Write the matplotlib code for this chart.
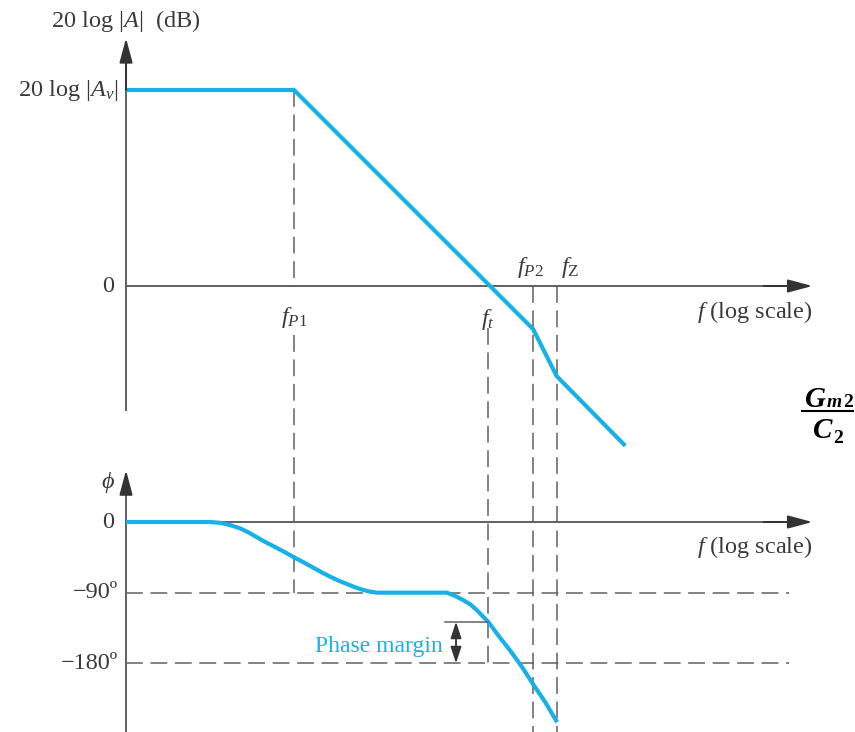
import matplotlib.pyplot as plt

plt.rcParams['font.family'] = 'Liberation Serif'
plt.rcParams['mathtext.fontset'] = 'custom'
plt.rcParams['mathtext.rm'] = 'Liberation Serif'
plt.rcParams['mathtext.it'] = 'Liberation Serif:italic'
plt.rcParams['mathtext.bf'] = 'Liberation Serif:bold'

CYAN = '#18b0e8'
GRAY = '#606060'
DARK = '#333333'
TEXT = '#3a3a3a'

# frequency axis in decades relative to f_P1
f_start = -1.714
f_P1 = 0.0
f_t = 1.98
f_P2 = 2.44
f_Z = 2.68
f_arrow = 5.29
f_dash_end = 5.05

# magnitude (dB) asymptotes
mag_f = [f_start, f_P1, f_P2, f_Z, 3.38]
mag_db = [40, 40, -8.8, -18.4, -32.6]

# phase (degrees)
phase_f = [-1.714, -0.857, -0.755, -0.65, -0.551, -0.46, -0.378, -0.3, -0.214,
           -0.1, 0.0, 0.1, 0.194, 0.28, 0.367, 0.45, 0.541, 0.62, 0.704, 0.78,
           0.847, 1.56, 1.64, 1.724, 1.80, 1.867, 1.98, 2.10, 2.224,
           2.337, 2.439, 2.561, 2.684]
phase_deg = [0, 0, -1, -4, -8, -13.5, -19.5, -25, -30.5,
             -38, -45, -51.5, -58, -64, -69.5, -74.5, -79, -83, -86.5, -88.8,
             -90, -90, -94, -99.3, -105, -112.5, -127, -147, -166.8,
             -186.6, -206.5, -229, -255]
margin_deg = -127

fig = plt.figure(figsize=(8.55, 7.32), dpi=100)
ax_m = fig.add_axes([0, 0, 1, 1])
ax_m.set_xlim(-3.0, 5.724)
ax_m.set_ylim(-91.02, 58.37)
ax_m.axis('off')
ax_p = fig.add_axes([0, 0, 1, 1])
ax_p.set_xlim(-3.0, 5.724)
ax_p.set_ylim(-267.5, 664.97)
ax_p.axis('off')
ax_p.patch.set_alpha(0)


def deg_to_db(d):
    disp = ax_p.transData.transform((0, d))
    return ax_m.transData.inverted().transform(disp)[1]


dash = dict(color=GRAY, lw=1.1, dashes=(11, 5))
arrow_kw = dict(arrowstyle='-|>,head_length=0.75,head_width=0.2',
                color=DARK, lw=1.4, mutation_scale=20, shrinkA=0, shrinkB=0)

# ---- axes with arrows
ax_m.plot([f_start, f_start], [-25.3, 45], color=GRAY, lw=1.4)
ax_m.annotate('', xy=(f_start, 50.6), xytext=(f_start, 40), arrowprops=arrow_kw)
ax_m.plot([f_start, f_arrow - 0.3], [0, 0], color=GRAY, lw=1.4)
ax_m.annotate('', xy=(f_arrow, 0), xytext=(f_arrow - 0.5, 0), arrowprops=arrow_kw)

ax_p.plot([f_start, f_start], [-267.5, 55], color=GRAY, lw=1.4)
ax_p.annotate('', xy=(f_start, 66), xytext=(f_start, 40), arrowprops=arrow_kw)
ax_p.plot([f_start, f_arrow - 0.3], [0, 0], color=GRAY, lw=1.4)
ax_p.annotate('', xy=(f_arrow, 0), xytext=(f_arrow - 0.5, 0), arrowprops=arrow_kw)

# ---- dashed guides
ax_p.plot([f_start, f_dash_end], [-90, -90], **dash)
ax_p.plot([f_start, f_dash_end], [-180, -180], **dash)
ax_m.plot([f_P1, f_P1], [40, 0], **dash)
ax_m.plot([f_P1, f_P1], [-10, deg_to_db(-90)], **dash)
ax_m.plot([f_t, f_t], [-8.6, deg_to_db(-180)], **dash)
ax_m.plot([f_P2, f_P2], [0, -91.02], **dash)
ax_m.plot([f_Z, f_Z], [0, -91.02], **dash)

# ---- curves
ax_m.plot(mag_f, mag_db, color=CYAN, lw=3, solid_joinstyle='miter', solid_capstyle='butt')
ax_p.plot(phase_f, phase_deg, color=CYAN, lw=3, solid_capstyle='butt', solid_joinstyle='round')

# ---- phase margin marker
ax_p.plot([1.54, f_t], [margin_deg, margin_deg], color=GRAY, lw=1.1)
ax_p.annotate('', xy=(1.653, margin_deg), xytext=(1.653, -180),
              arrowprops=dict(arrowstyle='<|-|>,head_length=0.55,head_width=0.18',
                              color=DARK, lw=1.3, mutation_scale=18,
                              shrinkA=0, shrinkB=0))
ax_p.text(1.52, -158, 'Phase margin', color=CYAN, fontsize=17,
          ha='right', va='center')

# ---- labels
fs = 17.5
ax_m.text(f_start, 54.0, r'20 log $|A|$  (dB)', fontsize=fs, color=TEXT,
          ha='center', va='center')
ax_m.text(f_start - 0.08, 40, r'20 log $|A_v|$', fontsize=fs, color=TEXT,
          ha='right', va='center')
ax_m.text(f_start - 0.12, 0, '0', fontsize=fs, color=TEXT, ha='right', va='center')
ax_m.text(f_P1, -6.5, r'$f_{P\mathrm{1}}$', fontsize=fs, color=TEXT, ha='center', va='center')
ax_m.text(f_t, -6.9, r'$f_t$', fontsize=fs, color=TEXT, ha='center', va='center')
ax_m.text(f_P2 - 0.03, 3.7, r'$f_{P\mathrm{2}}$', fontsize=fs, color=TEXT, ha='center', va='center')
ax_m.text(f_Z + 0.14, 3.7, r'$f_{\mathrm{Z}}$', fontsize=fs, color=TEXT, ha='center', va='center')
ax_m.text(f_arrow, -5.3, r'$f$ (log scale)', fontsize=fs, color=TEXT, ha='right', va='center')

ax_p.text(f_arrow, -31.8, r'$f$ (log scale)', fontsize=fs, color=TEXT, ha='right', va='center')
ax_p.text(f_start - 0.18, 49.7, r'$\phi$', fontsize=fs, color=TEXT, ha='center', va='center')
ax_p.text(f_start - 0.12, 0, '0', fontsize=fs, color=TEXT, ha='right', va='center')
ax_p.text(f_start - 0.08, -90, '\u221290\u00ba', fontsize=fs, color=TEXT, ha='right', va='center')
ax_p.text(f_start - 0.08, -180, '\u2212180\u00ba', fontsize=fs, color=TEXT, ha='right', va='center')

# ---- G_m2 / C_2 annotation
bi = dict(family='Liberation Serif', weight='bold', style='italic', color='black')
fig.text(815 / 855, 1 - 407 / 732, 'G', fontsize=21, ha='center', va='baseline', **bi)
fig.text(827 / 855, 1 - 407 / 732, 'm', fontsize=14, ha='left', va='baseline', **bi)
fig.text(843 / 855, 1 - 407 / 732, '2', fontsize=14, ha='left', va='baseline',
         family='Liberation Serif', weight='bold', color='black')
fig.add_artist(plt.Line2D([802 / 855, 853 / 855], [1 - 411 / 732, 1 - 411 / 732],
                          color='black', lw=1.5))
fig.text(823 / 855, 1 - 438 / 732, 'C', fontsize=21, ha='center', va='baseline', **bi)
fig.text(833 / 855, 1 - 443 / 732, '2', fontsize=14, ha='left', va='baseline',
         family='Liberation Serif', weight='bold', color='black')

fig.savefig('out.png', dpi=100)
